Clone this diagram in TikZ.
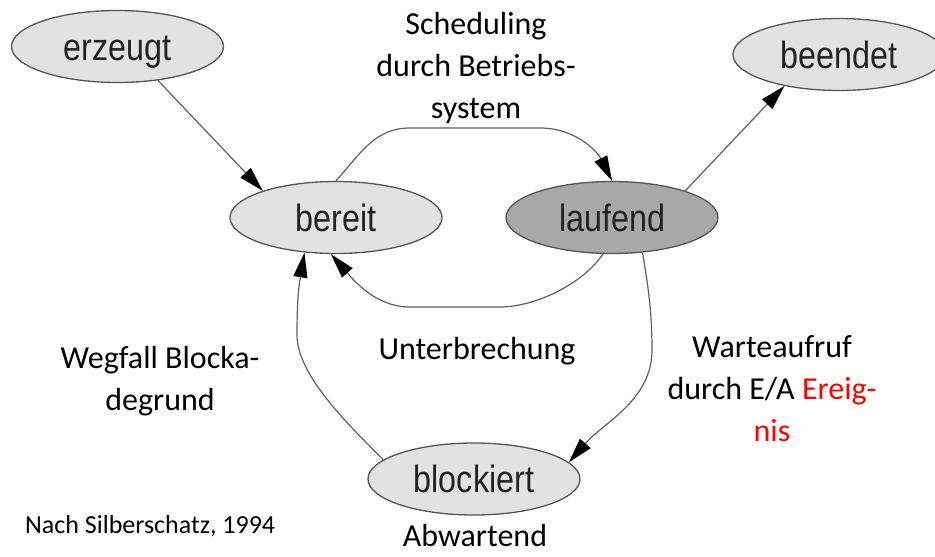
\documentclass[tikz,border=0pt]{standalone}
\usepackage{fontspec}
\setmainfont{Carlito}
\newfontfamily\statefont{Liberation Sans}[FakeStretch=0.85]
\usetikzlibrary{shapes.geometric,arrows.meta}

\definecolor{stateline}{HTML}{555555}
\definecolor{statefill}{HTML}{E2E2E2}
\definecolor{activefill}{HTML}{A8A8A8}
\definecolor{statetext}{HTML}{222222}
\definecolor{edgeline}{HTML}{606060}

\begin{document}
\begin{tikzpicture}[x=1pt,y=-1pt,
  state/.style={ellipse, draw=stateline, line width=1.3pt, fill=statefill,
    minimum width=212pt, minimum height=72pt, inner sep=0pt, text=statetext,
    font=\statefont\fontsize{38}{38}\selectfont, text height=27pt, text depth=0pt},
  active/.style={state, fill=activefill},
  trans/.style={draw=edgeline, line width=1.2pt,
    -{Triangle[length=25pt,width=14pt,color=black]}},
  lbl/.style={font=\fontsize{32}{42}\selectfont, inner sep=0pt},
  mlbl/.style={lbl, align=center}
]
\useasboundingbox (0,0) rectangle (935,557);

% process states
\node[state]  (erzeugt)   at (117.5,46.5) {erzeugt};
\node[state]  (beendet)   at (839,54.5)   {beendet};
\node[state]  (bereit)    at (336,217.5)  {bereit};
\node[active] (laufend)   at (612,217.5)  {laufend};
\node[state]  (blockiert) at (474,479)    {blockiert};

% transition labels
\node[mlbl] (sched)   at (476,68)  {Scheduling\\durch Betriebs-\\system};
\node[lbl]  (unterbr) at (477,351) {Unterbrechung};
\node[mlbl] (wegfall) at (160,381) {Wegfall Blocka-\\degrund};
\node[mlbl] (warte)   at (772,389) {Warteaufruf\\durch E/A \textcolor{red}{Ereig-}\\\textcolor{red}{nis}};
\node[lbl, anchor=base] (abw) at (475,546) {Abwartend};
\node[lbl, font=\fontsize{26}{32}\selectfont, anchor=base west] (quelle) at (25,533) {Nach Silberschatz, 1994};

% waypoints of the curved transitions
\coordinate (s1) at (410,128);
\coordinate (s2) at (540,128);
\coordinate (u1) at (500,307);
\coordinate (u2) at (410,307);
\coordinate (w1) at (297,335);
\coordinate (v1) at (652,350);

% transitions
\draw[trans] (erzeugt.-40) -- (bereit.160);
\draw[trans] (laufend.20) -- (beendet.210);
\draw[trans] (bereit.north) .. controls +(25,-28) and +(-35,0) .. (s1) -- (s2)
  .. controls +(35,0) and +(-15,-30) .. (laufend.north);
\draw[trans] (laufend.-104) .. controls +(-20,30) and +(35,0) .. (u1) -- (u2)
  .. controls +(-35,0) and +(22,25) .. (bereit.-98);
\draw[trans] (blockiert.168) .. controls +(-35,-35) and +(0,40) .. (w1)
  .. controls +(0,-40) and +(-5,30) .. (bereit.-132);
\draw[trans] (laufend.-49) .. controls +(5,30) and +(0,-40) .. (v1)
  .. controls +(0,50) and +(35,-40) .. (blockiert.10);
\end{tikzpicture}
\end{document}
